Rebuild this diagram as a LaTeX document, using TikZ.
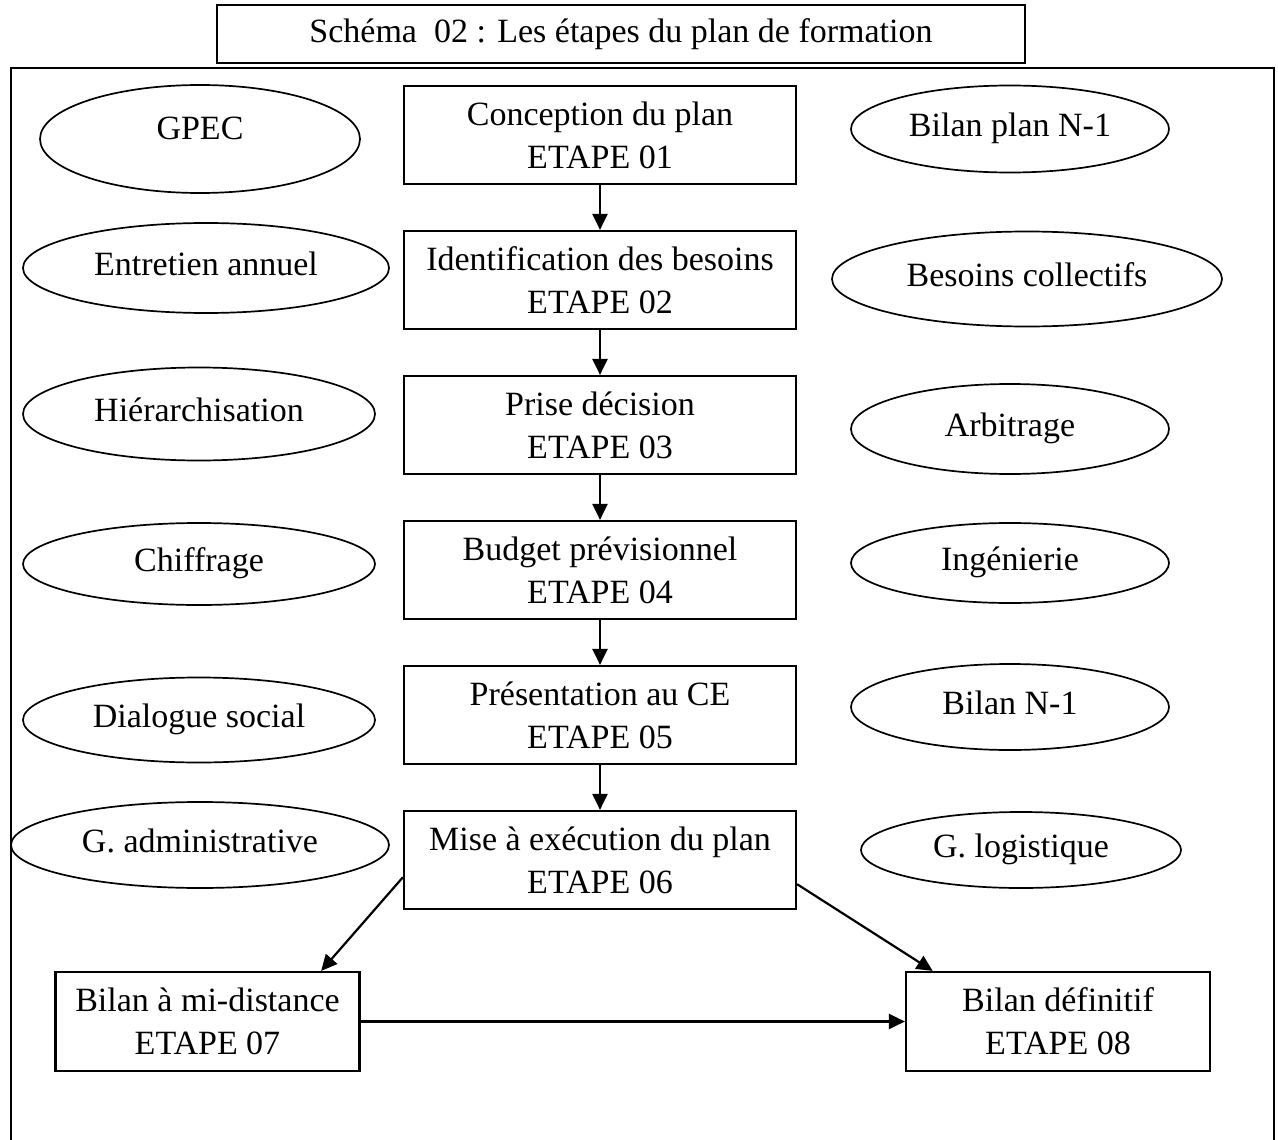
\documentclass[tikz,border=0pt]{standalone}
\usepackage{fontspec}
\setmainfont{Liberation Serif}
\usetikzlibrary{arrows.meta,shapes.geometric}

\begin{document}
\begin{tikzpicture}[x=1pt,y=-1pt]
\tikzstyle{every node}=[font=\fontsize{34}{43}\selectfont,align=center]
\tikzstyle{etape}=[draw,line width=2.2pt,minimum width=392pt,minimum height=98pt,inner sep=0pt]
\tikzstyle{bilan}=[draw,line width=2.2pt,minimum width=304pt,minimum height=99pt,inner sep=0pt]
\tikzstyle{bulle}=[draw,ellipse,line width=1.7pt,inner sep=0pt,text height=22.5pt,text depth=8pt]
\useasboundingbox (0,0) rectangle (1278,1140);
 % cadre et titre
 \draw[line width=1.8pt] (11,1140) -- (11,68) -- (1274,68) -- (1274,1140);
 \node[draw,line width=2.2pt,minimum width=808pt,minimum height=58pt,inner sep=0pt]
  (titre) at (621,34) {Schéma~~02 : Les étapes du plan de formation};
 % les etapes
 \draw
 (600,135) node[etape] (e1) {Conception du plan\\ETAPE 01}
 ++(0,145) node[etape] (e2) {Identification des besoins\\ETAPE 02}
 ++(0,145) node[etape] (e3) {Prise décision\\ETAPE 03}
 ++(0,145) node[etape] (e4) {Budget prévisionnel\\ETAPE 04}
 ++(0,145) node[etape] (e5) {Présentation au CE\\ETAPE 05}
 ++(0,145) node[etape] (e6) {Mise à exécution du plan\\ETAPE 06}
 ;
 \node[bilan] (b7) at (207.5,1021.5) {Bilan à mi-distance\\ETAPE 07};
 \node[bilan] (b8) at (1058,1021.5) {Bilan définitif\\ETAPE 08};
 % a gauche
 \node[bulle,minimum width=320pt,minimum height=108pt,text depth=22pt] (gpec) at (200,139) {GPEC};
 \node[bulle,minimum width=366pt,minimum height=90pt] (entretien) at (206,268) {Entretien annuel};
 \node[bulle,minimum width=352pt,minimum height=93pt] (hierarch) at (199,414) {Hiérarchisation};
 \node[bulle,minimum width=352pt,minimum height=82pt] (chiffrage) at (199,564) {Chiffrage};
 \node[bulle,minimum width=352pt,minimum height=85pt] (dialogue) at (199,720) {Dialogue social};
 \node[bulle,minimum width=378pt,minimum height=86pt] (gadmin) at (200,845) {G. administrative};
 % a droite
 \node[bulle,minimum width=318pt,minimum height=87pt] (bilanplan) at (1010,129) {Bilan plan N-1};
 \node[bulle,minimum width=390pt,minimum height=95pt] (besoins) at (1027,279) {Besoins collectifs};
 \node[bulle,minimum width=318pt,minimum height=90pt] (arbitrage) at (1010,429) {Arbitrage};
 \node[bulle,minimum width=318pt,minimum height=80pt] (ingenierie) at (1010,563) {Ingénierie};
 \node[bulle,minimum width=318pt,minimum height=86pt] (bilann) at (1010,707) {Bilan N-1};
 \node[bulle,minimum width=320pt,minimum height=76pt] (glog) at (1021,850) {G. logistique};
 % fleches
 \path[draw,line width=2.2pt,every edge/.append style={-{Triangle[length=16pt,width=15pt]}}]
 (e1) edge (e2)
 (e2) edge (e3)
 (e3) edge (e4)
 (e4) edge (e5)
 (e5) edge (e6)
 (e6.185.5) edge (b7.24.3)
 (e6.353.9) edge (b8.158.2)
 (b7) edge (b8)
 ;
\end{tikzpicture}
\end{document}
